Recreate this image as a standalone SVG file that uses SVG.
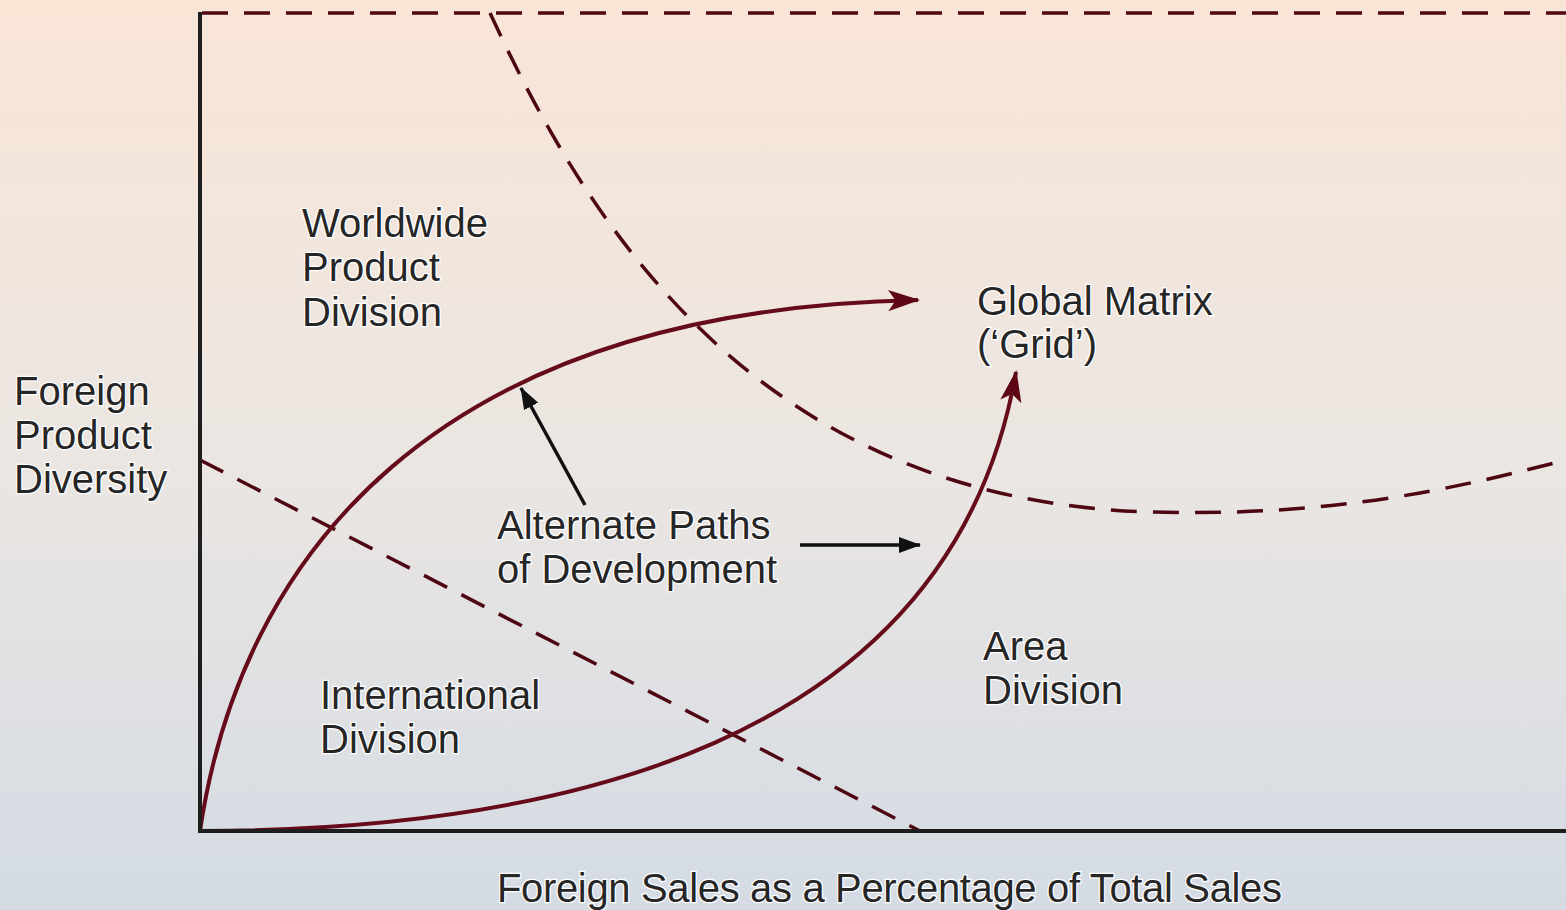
<svg xmlns="http://www.w3.org/2000/svg" width="1566" height="910" viewBox="0 0 1566 910">
<defs>
<linearGradient id="bg" x1="0" y1="0" x2="0" y2="1">
<stop offset="0" stop-color="#f9e5d6"/>
<stop offset="0.5" stop-color="#ebe6e2"/>
<stop offset="1" stop-color="#d4dbe4"/>
</linearGradient>
<marker id="mh" viewBox="0 0 30 20" refX="28" refY="10" markerWidth="32" markerHeight="22" markerUnits="userSpaceOnUse" orient="auto">
<path d="M0,0 L30,10 L0,20 L7,10 Z" fill="#5e0614"/>
</marker>
<marker id="bh" viewBox="0 0 22 16" refX="21" refY="8" markerWidth="22" markerHeight="16" markerUnits="userSpaceOnUse" orient="auto">
<path d="M0,0 L22,8 L0,16 Z" fill="#111"/>
</marker>
<style>
.t{font-family:"Liberation Sans",Arial,sans-serif;font-size:40px;fill:#262626;stroke:#fff;stroke-width:2.5;paint-order:stroke;}
.dash{fill:none;stroke:#4e0712;stroke-width:3.5;stroke-dasharray:26 16;}
.path{fill:none;stroke:#650b1a;stroke-width:4;}
.ptr{fill:none;stroke:#111;stroke-width:3.5;}
.axis{fill:none;stroke:#1e1e1e;stroke-width:4;}
</style>
</defs>
<rect width="1566" height="910" fill="url(#bg)"/>
<g id="connectors">
<path class="dash" d="M202,13 L1566,13"/>
<path class="dash" d="M490,13 C590,230 760,500 1150,512 C1330,517 1450,490 1566,460"/>
<path class="dash" d="M200,460 L920,831"/>
<path class="path" d="M200,831 C240,560 430,310 918,300" marker-end="url(#mh)"/>
<path class="path" d="M200,831 C550,830 950,750 1016,372" marker-end="url(#mh)"/>
<path class="ptr" d="M585,505 L521,388" marker-end="url(#bh)"/>
<path class="ptr" d="M800,545 L920,545" marker-end="url(#bh)"/>
</g>
<g id="axes">
<path class="axis" d="M200,12 L200,831 L1566,831"/>
</g>
<g id="worldwide"><text class="t" x="302" y="237">Worldwide</text><text class="t" x="302" y="281">Product</text><text class="t" x="302" y="326">Division</text></g>
<g id="global"><text class="t" x="977" y="315">Global Matrix</text><text class="t" x="977" y="358">(‘Grid’)</text></g>
<g id="yaxis"><text class="t" x="14" y="405">Foreign</text><text class="t" x="14" y="449">Product</text><text class="t" x="14" y="493">Diversity</text></g>
<g id="alternate"><text class="t" x="497" y="539">Alternate Paths</text><text class="t" x="497" y="583">of Development</text></g>
<g id="international"><text class="t" x="320" y="709">International</text><text class="t" x="320" y="753">Division</text></g>
<g id="area"><text class="t" x="983" y="660">Area</text><text class="t" x="983" y="704">Division</text></g>
<g id="xaxis"><text class="t" x="497" y="902" textLength="785">Foreign Sales as a Percentage of Total Sales</text></g>
</svg>
